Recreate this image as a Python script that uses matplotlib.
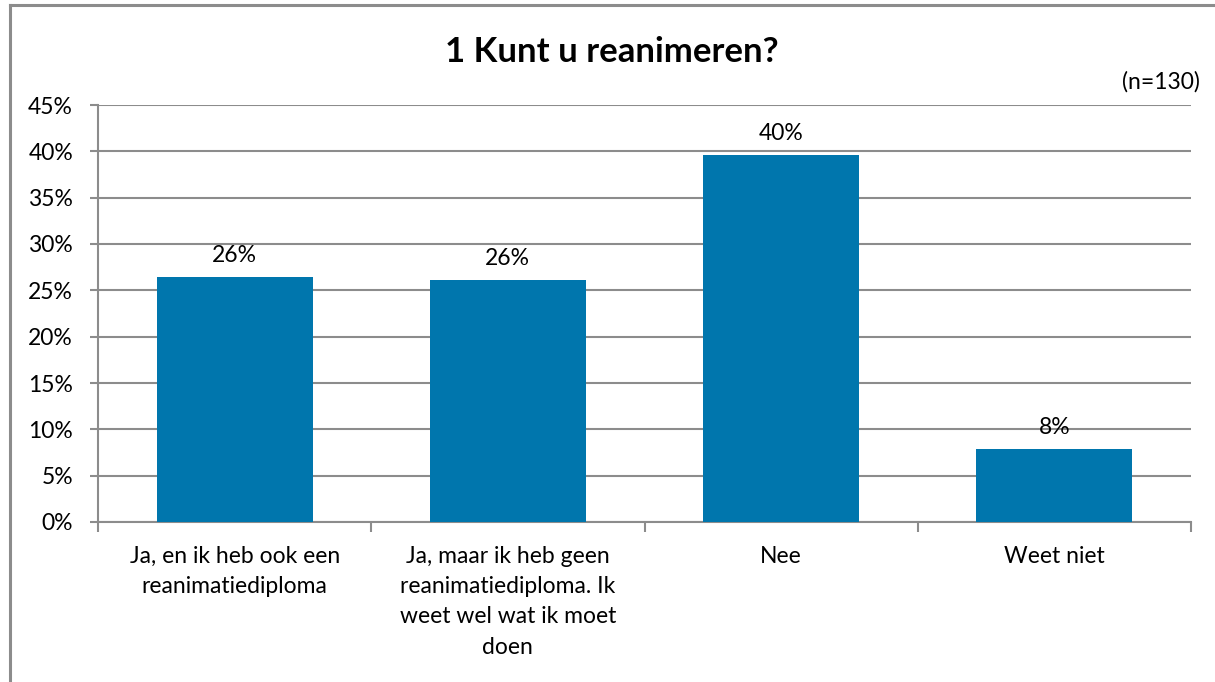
import matplotlib.pyplot as plt

# data
categories = [
    "Ja, en ik heb ook een\nreanimatiediploma",
    "Ja, maar ik heb geen\nreanimatiediploma. Ik\nweet wel wat ik moet\ndoen",
    "Nee",
    "Weet niet",
]
values = [26.4, 26.1, 39.6, 7.9]
value_labels = ["26%", "26%", "40%", "8%"]
y_ticks = [0, 5, 10, 15, 20, 25, 30, 35, 40, 45]

plt.rcParams['font.family'] = ['Lato', 'DejaVu Sans']

W, H = 1215, 682
fig = plt.figure(figsize=(W / 100, H / 100), dpi=100)

# chart frame (only left and top edges are visible in the crop)
fig.add_artist(plt.Line2D([10 / W, 10 / W], [0, 1 - 5 / H], transform=fig.transFigure,
                          color="#8c8c8c", lw=2.2))
fig.add_artist(plt.Line2D([10 / W, 1], [1 - 5 / H, 1 - 5 / H], transform=fig.transFigure,
                          color="#8c8c8c", lw=2.2))

left, right, top, bottom = 98, 1191, 105, 522
ax = fig.add_axes([left / W, 1 - bottom / H, (right - left) / W, (bottom - top) / H])

x = list(range(len(categories)))
ax.bar(x, values, width=0.57, color="#0076ad", zorder=3)

for xi, v, lab in zip(x, values, value_labels):
    ax.annotate(lab, (xi, v), xytext=(0, 8), textcoords="offset points",
                ha="center", va="bottom", fontsize=16.5, color="black")

ax.set_xlim(-0.5, len(categories) - 0.5)
ax.set_ylim(0, 45)
ax.set_yticks(y_ticks)
ax.set_yticklabels([f"{t}%" for t in y_ticks], fontsize=16.5)
ax.yaxis.grid(True, color="#8c8c8c", lw=1.5, zorder=0)

# category boundary ticks on x axis
ax.set_xticks([i - 0.5 for i in range(len(categories) + 1)])
ax.set_xticklabels([])
ax.set_xticks(x, minor=True)
ax.set_xticklabels(categories, minor=True, fontsize=16.5, linespacing=1.55)
ax.tick_params(axis="x", which="minor", length=0, pad=17)
ax.tick_params(axis="x", which="major", length=7, width=1.5, color="#8c8c8c")
ax.tick_params(axis="y", length=6, width=1.5, color="#8c8c8c", pad=12)

for s in ["top", "right"]:
    ax.spines[s].set_visible(False)
for s in ["left", "bottom"]:
    ax.spines[s].set_color("#8c8c8c")
    ax.spines[s].set_linewidth(1.5)

fig.text(612 / W, 1 - 52 / H, "1 Kunt u reanimeren?", ha="center", va="center",
         fontsize=25, fontweight="bold")
fig.text(1200 / W, 1 - 82 / H, "(n=130)", ha="right", va="center", fontsize=16.5)

fig.savefig("out.png", dpi=100)
